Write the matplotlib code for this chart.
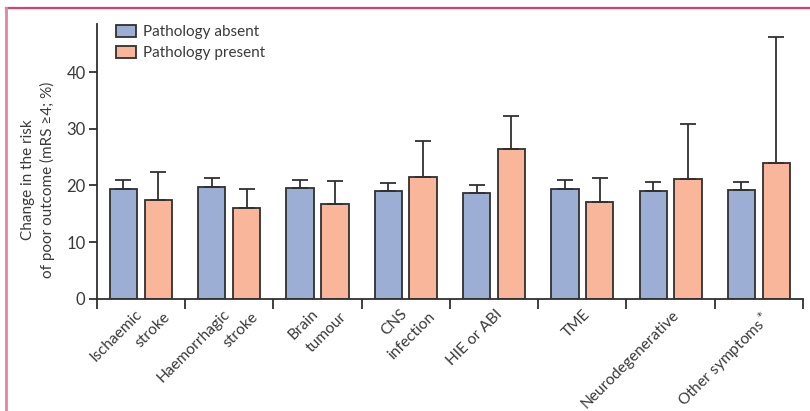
import numpy as np
import matplotlib.pyplot as plt
import matplotlib.transforms as mtransforms
from matplotlib.lines import Line2D

plt.rcParams['font.family'] = ['Lato', 'DejaVu Sans']

# data
categories = ['Ischaemic\nstroke', 'Haemorrhagic\nstroke', 'Brain\ntumour', 'CNS\ninfection',
              'HIE or ABI', 'TME', 'Neurodegenerative', 'Other symptoms$^*$']
absent = [19.4, 19.8, 19.5, 19.05, 18.6, 19.4, 19.1, 19.15]
absent_upper = [20.9, 21.4, 21.0, 20.5, 20.1, 21.0, 20.6, 20.65]
present = [17.5, 16.05, 16.7, 21.45, 26.45, 17.15, 21.2, 23.9]
present_upper = [22.3, 19.4, 20.75, 27.9, 32.3, 21.35, 30.8, 46.2]

blue = '#9daed4'
orange = '#fab69a'
dark = '#303030'
text_col = '#3a3a3a'

fig = plt.figure(figsize=(8.1, 4.11), dpi=100)
ax = fig.add_axes([0.1194, 0.2732, 0.872, 0.6684])

x = np.arange(len(categories)) + 0.5
w = 0.31
off = 0.197

absent = np.array(absent)
present = np.array(present)
err_a = [np.zeros(len(absent)), np.array(absent_upper) - absent]
err_p = [np.zeros(len(present)), np.array(present_upper) - present]

ekw = dict(ecolor=dark, elinewidth=1.3, capsize=5.8, capthick=1.3)
ax.bar(x - off, absent, w, color=blue, edgecolor=dark, linewidth=1.3,
       yerr=err_a, error_kw=ekw, label='Pathology absent', zorder=2)
ax.bar(x + off, present, w, color=orange, edgecolor=dark, linewidth=1.3,
       yerr=err_p, error_kw=ekw, label='Pathology present', zorder=2)

ax.set_xlim(0, len(categories))
ax.set_ylim(0, 48.5)
ax.set_yticks([0, 10, 20, 30, 40])

for s in ['top', 'right']:
    ax.spines[s].set_visible(False)
for s in ['left', 'bottom']:
    ax.spines[s].set_color(dark)
    ax.spines[s].set_linewidth(1.3)

# group separators as ticks, labels drawn by hand (second line indented)
ax.set_xticks(np.arange(len(categories) + 1))
ax.set_xticklabels([])
ax.tick_params(axis='x', length=7, width=1.3, color=dark)
ax.tick_params(axis='y', length=6, width=1.3, color=dark, labelsize=12,
               labelcolor=text_col, pad=2)

base = ax.get_xaxis_transform()
for xc, lab in zip(x, categories):
    lines = lab.split('\n')
    if len(lines) == 1:
        offs = [(1, -9)]
    else:
        offs = [(-6, -8), (22, -11)]
    for line, (dx, dy) in zip(lines, offs):
        tr = mtransforms.offset_copy(base, fig=fig, x=dx, y=dy, units='dots')
        ax.text(xc, 0, line, transform=tr, rotation=45, ha='right', va='top',
                rotation_mode='anchor', fontsize=11.2, color=text_col)

fig.text(0.047, 0.563, 'Change in the risk\nof poor outcome (mRS \u22654; %)',
         rotation=90, ha='center', va='center', multialignment='center',
         fontsize=11, color=text_col, linespacing=1.45)

leg = ax.legend(loc='upper left', bbox_to_anchor=(0.027, 0.995), frameon=False,
                fontsize=11, handlelength=1.35, handleheight=0.75,
                handletextpad=0.4, labelspacing=0.45, borderpad=0, borderaxespad=0)
for t in leg.get_texts():
    t.set_color(text_col)

# pink frame lines
fig.add_artist(Line2D([0.007, 1.0], [0.981, 0.981], color='#d8406f', linewidth=1.6))
fig.add_artist(Line2D([0.007, 0.007], [0.0, 0.981], color='#e184a2', linewidth=2.0))

fig.savefig('out.png', dpi=100)
